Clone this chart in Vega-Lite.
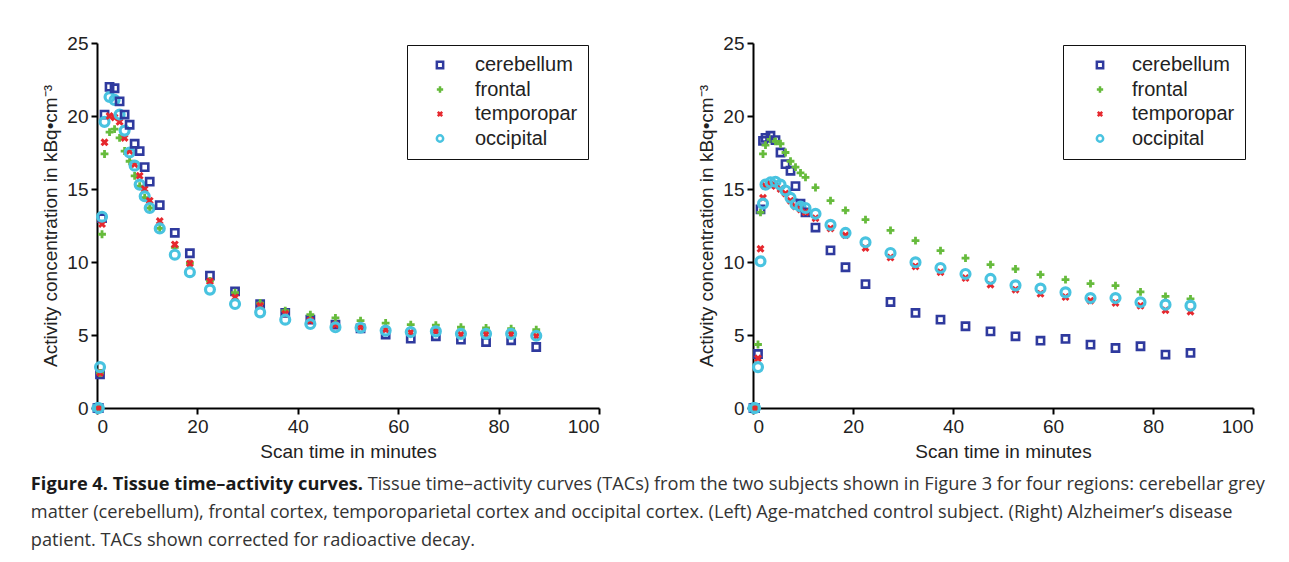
{
  "$schema": "https://vega.github.io/schema/vega-lite/v6.json",
  "background": "white",
  "padding": {"left": 30, "top": 34, "right": 10, "bottom": 10},
  "datasets": {
    "tac": [
      {"panel": "L", "t": 0.1, "cerebellum": 0, "frontal": 0, "temporopar": 0, "occipital": 0},
      {"panel": "L", "t": 0.35, "cerebellum": 0, "frontal": 0, "temporopar": 0, "occipital": 0},
      {"panel": "L", "t": 0.6, "cerebellum": 2.3, "frontal": 2.4, "temporopar": 2.4, "occipital": 2.8},
      {"panel": "L", "t": 1.0, "cerebellum": 13.0, "frontal": 11.9, "temporopar": 12.6, "occipital": 13.1},
      {"panel": "L", "t": 1.5, "cerebellum": 20.1, "frontal": 17.4, "temporopar": 18.2, "occipital": 19.6},
      {"panel": "L", "t": 2.5, "cerebellum": 22.0, "frontal": 18.9, "temporopar": 20.0, "occipital": 21.3},
      {"panel": "L", "t": 3.5, "cerebellum": 21.9, "frontal": 19.1, "temporopar": 19.9, "occipital": 21.1},
      {"panel": "L", "t": 4.5, "cerebellum": 21.0, "frontal": 18.5, "temporopar": 19.6, "occipital": 20.1},
      {"panel": "L", "t": 5.5, "cerebellum": 20.1, "frontal": 17.6, "temporopar": 18.5, "occipital": 19.0},
      {"panel": "L", "t": 6.5, "cerebellum": 19.4, "frontal": 16.9, "temporopar": 17.6, "occipital": 17.5},
      {"panel": "L", "t": 7.5, "cerebellum": 18.1, "frontal": 15.9, "temporopar": 16.7, "occipital": 16.6},
      {"panel": "L", "t": 8.5, "cerebellum": 17.6, "frontal": 15.2, "temporopar": 15.9, "occipital": 15.3},
      {"panel": "L", "t": 9.5, "cerebellum": 16.5, "frontal": 14.4, "temporopar": 15.0, "occipital": 14.5},
      {"panel": "L", "t": 10.5, "cerebellum": 15.5, "frontal": 13.7, "temporopar": 14.2, "occipital": 13.7},
      {"panel": "L", "t": 12.5, "cerebellum": 13.9, "frontal": 12.3, "temporopar": 12.8, "occipital": 12.3},
      {"panel": "L", "t": 15.5, "cerebellum": 12.0, "frontal": 11.0, "temporopar": 11.2, "occipital": 10.5},
      {"panel": "L", "t": 18.5, "cerebellum": 10.6, "frontal": 9.9, "temporopar": 9.9, "occipital": 9.3},
      {"panel": "L", "t": 22.5, "cerebellum": 9.07, "frontal": 8.7, "temporopar": 8.68, "occipital": 8.11},
      {"panel": "L", "t": 27.5, "cerebellum": 7.99, "frontal": 7.9, "temporopar": 7.58, "occipital": 7.12},
      {"panel": "L", "t": 32.5, "cerebellum": 7.12, "frontal": 7.19, "temporopar": 7.0, "occipital": 6.55},
      {"panel": "L", "t": 37.5, "cerebellum": 6.51, "frontal": 6.67, "temporopar": 6.45, "occipital": 6.05},
      {"panel": "L", "t": 42.5, "cerebellum": 6.05, "frontal": 6.4, "temporopar": 6.0, "occipital": 5.75},
      {"panel": "L", "t": 47.5, "cerebellum": 5.71, "frontal": 6.17, "temporopar": 5.71, "occipital": 5.53},
      {"panel": "L", "t": 52.5, "cerebellum": 5.45, "frontal": 5.98, "temporopar": 5.53, "occipital": 5.5},
      {"panel": "L", "t": 57.5, "cerebellum": 5.03, "frontal": 5.82, "temporopar": 5.37, "occipital": 5.3},
      {"panel": "L", "t": 62.5, "cerebellum": 4.75, "frontal": 5.71, "temporopar": 5.18, "occipital": 5.2},
      {"panel": "L", "t": 67.5, "cerebellum": 4.91, "frontal": 5.67, "temporopar": 5.25, "occipital": 5.25},
      {"panel": "L", "t": 72.5, "cerebellum": 4.68, "frontal": 5.53, "temporopar": 5.03, "occipital": 5.08},
      {"panel": "L", "t": 77.5, "cerebellum": 4.52, "frontal": 5.48, "temporopar": 5.03, "occipital": 5.08},
      {"panel": "L", "t": 82.5, "cerebellum": 4.64, "frontal": 5.43, "temporopar": 5.03, "occipital": 5.08},
      {"panel": "L", "t": 87.5, "cerebellum": 4.18, "frontal": 5.37, "temporopar": 4.91, "occipital": 4.95},
      {"panel": "R", "t": 0.1, "cerebellum": 0, "frontal": 0, "temporopar": 0, "occipital": 0},
      {"panel": "R", "t": 0.4, "cerebellum": 0, "frontal": 0, "temporopar": 0, "occipital": 0},
      {"panel": "R", "t": 1.0, "cerebellum": 3.7, "frontal": 4.35, "temporopar": 3.4, "occipital": 2.8},
      {"panel": "R", "t": 1.5, "cerebellum": 13.6, "frontal": 13.4, "temporopar": 10.9, "occipital": 10.05},
      {"panel": "R", "t": 2.0, "cerebellum": 18.3, "frontal": 17.4, "temporopar": 14.4, "occipital": 14.0},
      {"panel": "R", "t": 2.5, "cerebellum": 18.5, "frontal": 18.0, "temporopar": 15.2, "occipital": 15.3},
      {"panel": "R", "t": 3.5, "cerebellum": 18.65, "frontal": 18.4, "temporopar": 15.3, "occipital": 15.45},
      {"panel": "R", "t": 4.5, "cerebellum": 18.35, "frontal": 18.26, "temporopar": 15.2, "occipital": 15.5},
      {"panel": "R", "t": 5.5, "cerebellum": 17.5, "frontal": 18.1, "temporopar": 15.0, "occipital": 15.3},
      {"panel": "R", "t": 6.5, "cerebellum": 16.7, "frontal": 17.5, "temporopar": 14.7, "occipital": 14.9},
      {"panel": "R", "t": 7.5, "cerebellum": 16.25, "frontal": 16.9, "temporopar": 14.2, "occipital": 14.4},
      {"panel": "R", "t": 8.5, "cerebellum": 15.2, "frontal": 16.5, "temporopar": 13.8, "occipital": 13.96},
      {"panel": "R", "t": 9.5, "cerebellum": 14.0, "frontal": 16.1, "temporopar": 13.6, "occipital": 13.8},
      {"panel": "R", "t": 10.5, "cerebellum": 13.4, "frontal": 15.8, "temporopar": 13.4, "occipital": 13.7},
      {"panel": "R", "t": 12.5, "cerebellum": 12.36, "frontal": 15.1, "temporopar": 13.0, "occipital": 13.3},
      {"panel": "R", "t": 15.5, "cerebellum": 10.8, "frontal": 14.2, "temporopar": 12.3, "occipital": 12.54},
      {"panel": "R", "t": 18.5, "cerebellum": 9.64, "frontal": 13.54, "temporopar": 11.83, "occipital": 11.99},
      {"panel": "R", "t": 22.5, "cerebellum": 8.49, "frontal": 12.9, "temporopar": 10.96, "occipital": 11.35},
      {"panel": "R", "t": 27.5, "cerebellum": 7.26, "frontal": 12.17, "temporopar": 10.3, "occipital": 10.62},
      {"panel": "R", "t": 32.5, "cerebellum": 6.51, "frontal": 11.46, "temporopar": 9.7, "occipital": 9.98},
      {"panel": "R", "t": 37.5, "cerebellum": 6.05, "frontal": 10.78, "temporopar": 9.3, "occipital": 9.59},
      {"panel": "R", "t": 42.5, "cerebellum": 5.6, "frontal": 10.27, "temporopar": 8.9, "occipital": 9.18},
      {"panel": "R", "t": 47.5, "cerebellum": 5.25, "frontal": 9.82, "temporopar": 8.45, "occipital": 8.84},
      {"panel": "R", "t": 52.5, "cerebellum": 4.91, "frontal": 9.52, "temporopar": 8.1, "occipital": 8.4},
      {"panel": "R", "t": 57.5, "cerebellum": 4.61, "frontal": 9.13, "temporopar": 7.82, "occipital": 8.18},
      {"panel": "R", "t": 62.5, "cerebellum": 4.73, "frontal": 8.79, "temporopar": 7.6, "occipital": 7.92},
      {"panel": "R", "t": 67.5, "cerebellum": 4.34, "frontal": 8.52, "temporopar": 7.35, "occipital": 7.53},
      {"panel": "R", "t": 72.5, "cerebellum": 4.11, "frontal": 8.38, "temporopar": 7.2, "occipital": 7.53},
      {"panel": "R", "t": 77.5, "cerebellum": 4.23, "frontal": 7.95, "temporopar": 7.0, "occipital": 7.24},
      {"panel": "R", "t": 82.5, "cerebellum": 3.66, "frontal": 7.65, "temporopar": 6.7, "occipital": 7.08},
      {"panel": "R", "t": 87.5, "cerebellum": 3.77, "frontal": 7.47, "temporopar": 6.6, "occipital": 7.01}
    ]
  },
  "title": {
    "text": "Figure 4. Tissue time–activity curves.",
    "subtitle": [
      "\u200b\u2003\u2003\u2003\u2003\u2003\u2003\u2003\u2003\u2003\u2003\u2003\u2003\u2003\u2003\u2003\u2003\u2003\u2002\u2002\u00a0\u00a0Tissue time–activity curves (TACs) from the two subjects shown in Figure 3 for four regions: cerebellar grey",
      "matter (cerebellum), frontal cortex, temporoparietal cortex and occipital cortex. (Left) Age-matched control subject. (Right) Alzheimer’s disease",
      "patient. TACs shown corrected for radioactive decay."
    ],
    "orient": "bottom",
    "anchor": "start",
    "frame": "bounds",
    "font": "Open Sans",
    "fontSize": 18.2,
    "fontWeight": "bold",
    "color": "#1a1a1a",
    "subtitleFont": "Open Sans",
    "subtitleFontSize": 18.2,
    "subtitleFontWeight": "normal",
    "subtitleColor": "#333333",
    "subtitleLineHeight": 28,
    "subtitlePadding": -18.2,
    "offset": 15,
    "dx": -11
  },
  "bounds": "flush",
  "spacing": 154,
  "resolve": {"legend": {"color": "independent", "shape": "independent"}},
  "hconcat": [
    {
      "width": 502,
      "height": 365,
      "data": {"name": "tac"},
      "transform": [
        {"filter": "datum.panel === 'L'"},
        {"fold": ["cerebellum", "frontal", "temporopar", "occipital"], "as": ["region", "conc"]}
      ],
      "mark": {"type": "point", "filled": false, "opacity": 1},
      "encoding": {
        "x": {"field": "t", "type": "quantitative", "scale": {"domain": [0, 100], "nice": false}, "axis": {"values": [0, 20, 40, 60, 80, 100], "title": "Scan time in minutes"}},
        "y": {"field": "conc", "type": "quantitative", "scale": {"domain": [0, 25], "nice": false}, "axis": {"values": [0, 5, 10, 15, 20, 25], "title": "Activity concentration in kBq•cm⁻³"}},
        "color": {"field": "region", "type": "nominal", "scale": {"domain": ["cerebellum", "frontal", "temporopar", "occipital"], "range": ["#2f3a9e", "#66bb3c", "#e6282e", "#49c3e0"]},
          "legend": {"orient": "none", "legendX": 310, "legendY": 2, "title": " ", "titleOrient": "left", "titleFontSize": 10, "titlePadding": 13, "padding": 10, "strokeColor": "#111", "fillColor": "white", "labelOffset": 25, "labelFontSize": 20, "labelFont": "Liberation Sans", "labelColor": "#222", "rowPadding": 4.5, "symbolSize": 40, "symbolStrokeWidth": 2.5,
            "encode": {"legend": {"update": {"strokeWidth": {"value": 2}}}}}},
        "shape": {"field": "region", "type": "nominal", "scale": {"domain": ["cerebellum", "frontal", "temporopar", "occipital"], "range": ["square", "M-1,0L1,0M0,-1L0,1", "M-0.7,-0.7L0.7,0.7M-0.7,0.7L0.7,-0.7", "circle"]},
          "legend": {"orient": "none", "legendX": 310, "legendY": 2, "title": " ", "titleOrient": "left", "titleFontSize": 10, "titlePadding": 13, "padding": 10, "strokeColor": "#111", "fillColor": "white", "labelOffset": 25, "labelFontSize": 20, "labelFont": "Liberation Sans", "labelColor": "#222", "rowPadding": 4.5, "symbolSize": 40, "symbolStrokeWidth": 2.5,
            "encode": {"legend": {"update": {"strokeWidth": {"value": 2}}}}}},
        "size": {"field": "region", "type": "nominal", "scale": {"domain": ["cerebellum", "frontal", "temporopar", "occipital"], "range": [52, 80, 90, 46]}, "legend": null},
        "strokeWidth": {"field": "region", "type": "nominal", "scale": {"domain": ["cerebellum", "frontal", "temporopar", "occipital"], "range": [2.6, 3.2, 2.3, 2.4]}, "legend": null}
      }
    },
    {
      "width": 500,
      "height": 365,
      "data": {"name": "tac"},
      "transform": [
        {"filter": "datum.panel === 'R'"},
        {"fold": ["cerebellum", "frontal", "temporopar", "occipital"], "as": ["region", "conc"]}
      ],
      "mark": {"type": "point", "filled": false, "opacity": 1},
      "encoding": {
        "x": {"field": "t", "type": "quantitative", "scale": {"domain": [0, 100], "nice": false}, "axis": {"values": [0, 20, 40, 60, 80, 100], "title": "Scan time in minutes"}},
        "y": {"field": "conc", "type": "quantitative", "scale": {"domain": [0, 25], "nice": false}, "axis": {"values": [0, 5, 10, 15, 20, 25], "title": "Activity concentration in kBq•cm⁻³"}},
        "color": {"field": "region", "type": "nominal", "scale": {"domain": ["cerebellum", "frontal", "temporopar", "occipital"], "range": ["#2f3a9e", "#66bb3c", "#e6282e", "#49c3e0"]},
          "legend": {"orient": "none", "legendX": 310, "legendY": 2, "title": " ", "titleOrient": "left", "titleFontSize": 10, "titlePadding": 17, "padding": 10, "strokeColor": "#111", "fillColor": "white", "labelOffset": 22, "labelFontSize": 20, "labelFont": "Liberation Sans", "labelColor": "#222", "rowPadding": 4.5, "symbolSize": 40, "symbolStrokeWidth": 2.5,
            "encode": {"legend": {"update": {"strokeWidth": {"value": 2}}}}}},
        "shape": {"field": "region", "type": "nominal", "scale": {"domain": ["cerebellum", "frontal", "temporopar", "occipital"], "range": ["square", "M-1,0L1,0M0,-1L0,1", "M-0.7,-0.7L0.7,0.7M-0.7,0.7L0.7,-0.7", "circle"]},
          "legend": {"orient": "none", "legendX": 310, "legendY": 2, "title": " ", "titleOrient": "left", "titleFontSize": 10, "titlePadding": 17, "padding": 10, "strokeColor": "#111", "fillColor": "white", "labelOffset": 22, "labelFontSize": 20, "labelFont": "Liberation Sans", "labelColor": "#222", "rowPadding": 4.5, "symbolSize": 40, "symbolStrokeWidth": 2.5,
            "encode": {"legend": {"update": {"strokeWidth": {"value": 2}}}}}},
        "size": {"field": "region", "type": "nominal", "scale": {"domain": ["cerebellum", "frontal", "temporopar", "occipital"], "range": [52, 80, 90, 46]}, "legend": null},
        "strokeWidth": {"field": "region", "type": "nominal", "scale": {"domain": ["cerebellum", "frontal", "temporopar", "occipital"], "range": [2.6, 3.2, 2.3, 2.4]}, "legend": null}
      }
    }
  ],
  "config": {
    "view": {"stroke": null},
    "axis": {"grid": false, "domainColor": "black", "domainWidth": 2, "tickColor": "black", "tickWidth": 2, "tickSize": 6, "labelFont": "Liberation Sans", "labelFontSize": 19, "labelColor": "#222", "labelPadding": 3, "titleFont": "Liberation Sans", "titleFontSize": 19, "titleFontWeight": "normal", "titleColor": "#222"},
    "axisY": {"titlePadding": 6},
    "axisX": {"titlePadding": 6}
  }
}
